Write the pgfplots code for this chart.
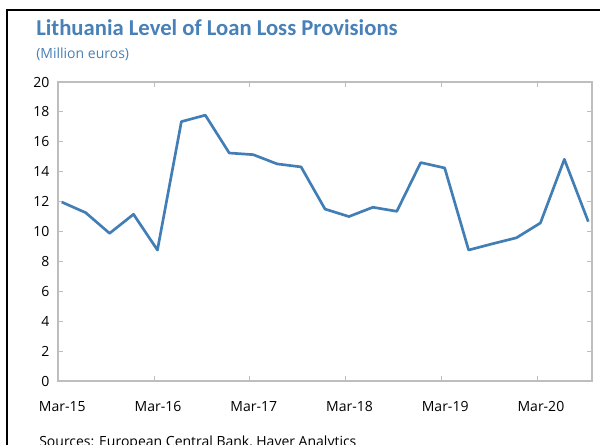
\documentclass[border=0pt]{standalone}
\usepackage{fontspec}
\setmainfont{Open Sans}
\newfontfamily\titlefont{Carlito}
\usepackage{pgfplots}
\pgfplotsset{compat=1.18}
\definecolor{lineblue}{RGB}{66,126,182}
\definecolor{titleblue}{RGB}{72,128,184}
\definecolor{boxgray}{RGB}{190,190,190}

\begin{document}
\begin{tikzpicture}
% 1 px of the 600x445 reference = 0.75pt, origin at the axis' lower left corner
\useasboundingbox (-43.5pt,-48pt) rectangle (406.5pt,285.75pt);
\draw[line width=1.6pt, black] (-38.25pt,-50pt) -- (-38.25pt,278.25pt) -- (410pt,278.25pt);
\node[anchor=base west, inner sep=0pt, text=titleblue, font=\titlefont\bfseries\fontsize{17}{20}\selectfont]
  at (-16.5pt,259pt) {Lithuania Level of Loan Loss Provisions};
\node[anchor=base west, inner sep=0pt, text=titleblue, font=\fontsize{10.5}{12}\selectfont]
  at (-16.5pt,242pt) {(Million euros)};
\node[anchor=base west, inner sep=0pt, font=\fontsize{10.5}{12}\selectfont]
  at (-14.25pt,-49pt) {Sources: European Central Bank, Haver Analytics};
\begin{axis}[
  at={(0,0)}, anchor=south west,
  scale only axis,
  width=400.5pt, height=224.25pt,
  xmin=-0.155, xmax=22.155,
  ymin=0, ymax=20,
  ytick={0,2,...,20},
  xtick={-0.146,3.854,7.854,11.854,15.854,19.854},
  xticklabels={Mar-15,Mar-16,Mar-17,Mar-18,Mar-19,Mar-20},
  tick align=inside,
  major tick length=3.75pt,
  tick style={draw=boxgray, line width=0.6pt},
  axis line style={draw=boxgray, line width=0.8pt},
  ticklabel style={font=\fontsize{10.5}{12}\selectfont},
  xticklabel style={xshift=3pt, yshift=-12pt},
  yticklabel style={xshift=-3pt},
  /pgf/number format/assume math mode=true,
  clip=false,
]
\addplot[lineblue, line width=2pt, line join=round] coordinates {
  (0,11.97) (1,11.26) (2,9.88) (3,11.15) (4,8.76) (5,17.35) (6,17.78)
  (7,15.25) (8,15.14) (9,14.52) (10,14.32) (11,11.5) (12,11.0) (13,11.62)
  (14,11.35) (15,14.61) (16,14.25) (17,8.76) (18,9.18) (19,9.58) (20,10.57)
  (21,14.83) (22,10.66)
};
\end{axis}
\end{tikzpicture}
\end{document}
